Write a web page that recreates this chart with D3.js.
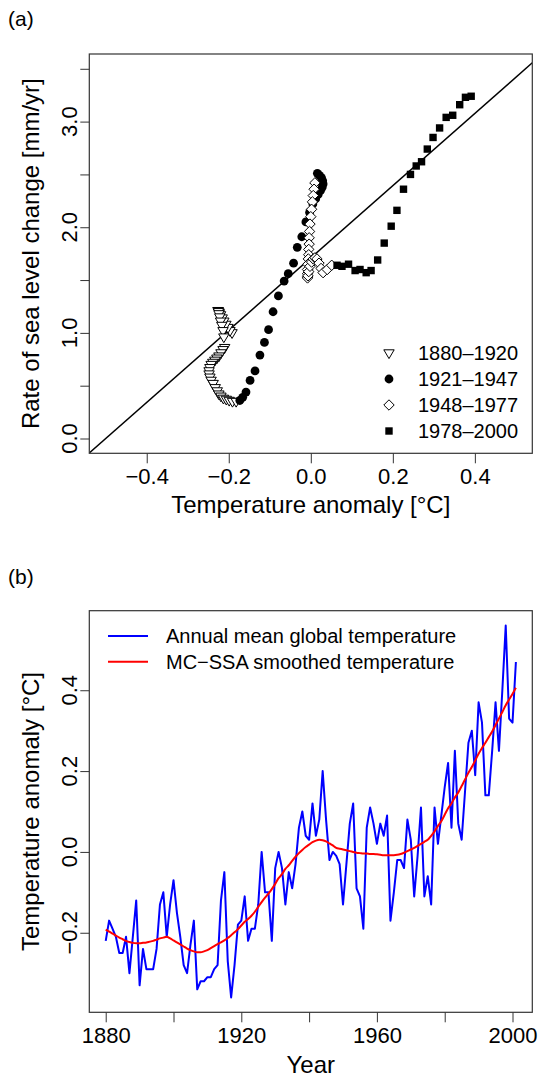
<!DOCTYPE html>
<html>
<head>
<meta charset="utf-8">
<script src="https://cdn.jsdelivr.net/npm/d3@7"></script>
<style>
  body { margin: 0; background: #fff; }
  text { font-family: "Liberation Sans", Arial, Helvetica, sans-serif; fill: #000; }
</style>
</head>
<body>
<div id="chart"></div>
<script>
/*****************************************************
 * DATA
 *****************************************************/
const firstYear = 1880;

// MC-SSA smoothed temperature anomaly [°C], 1880–2001
const smoothTemp = [
  -0.192, -0.197, -0.202, -0.207, -0.212, -0.216, -0.220, -0.223, -0.225, -0.226,
  -0.226, -0.225, -0.224, -0.222, -0.220, -0.217, -0.214, -0.212, -0.210, -0.214,
  -0.219, -0.224, -0.229, -0.234, -0.239, -0.243, -0.246, -0.248, -0.248, -0.246,
  -0.243, -0.238, -0.233, -0.228, -0.224, -0.219, -0.213, -0.206, -0.199, -0.191,
  -0.182, -0.173, -0.166, -0.158, -0.148, -0.136, -0.124, -0.113, -0.103, -0.092,
  -0.079, -0.065, -0.055, -0.042, -0.033, -0.022, -0.012, -0.003, 0.005, 0.012,
  0.018, 0.024, 0.028, 0.030, 0.029, 0.026, 0.021, 0.016, 0.010, 0.008,
  0.006, 0.004, 0.002, 0.000, -0.002, -0.003, -0.004, -0.004, -0.005, -0.005,
  -0.006, -0.007, -0.008, -0.008, -0.008, -0.008, -0.007, -0.005, -0.002, 0.002,
  0.006, 0.010, 0.015, 0.020, 0.025, 0.030, 0.040, 0.051, 0.064, 0.076,
  0.092, 0.108, 0.120, 0.135, 0.147, 0.163, 0.179, 0.196, 0.210, 0.226,
  0.243, 0.257, 0.270, 0.284, 0.298, 0.314, 0.330, 0.346, 0.363, 0.377,
  0.391, 0.406
];

// Annual mean global temperature anomaly [°C], 1880–2001
const annualTemp = [
  -0.22, -0.17, -0.19, -0.21, -0.25, -0.25, -0.21, -0.30, -0.21, -0.12,
  -0.33, -0.24, -0.29, -0.29, -0.29, -0.24, -0.13, -0.10, -0.21, -0.13,
  -0.07, -0.15, -0.21, -0.28, -0.30, -0.23, -0.17, -0.34, -0.32, -0.32,
  -0.31, -0.31, -0.29, -0.28, -0.12, -0.05, -0.27, -0.36, -0.28, -0.18,
  -0.17, -0.11, -0.22, -0.19, -0.19, -0.13, 0.00, -0.10, -0.10, -0.22,
  -0.04, 0.00, -0.04, -0.13, -0.05, -0.09, -0.03, 0.06, 0.10, 0.04,
  0.03, 0.12, 0.04, 0.08, 0.20, 0.08, -0.02, 0.00, -0.01, -0.03,
  -0.13, -0.03, 0.07, 0.12, -0.09, -0.11, -0.19, 0.06, 0.11, 0.07,
  0.02, 0.07, 0.04, 0.09, -0.17, -0.10, -0.02, -0.02, -0.04, 0.08,
  0.03, -0.11, -0.01, 0.11, -0.11, -0.06, -0.13, 0.11, 0.02, 0.09,
  0.16, 0.22, 0.06, 0.25, 0.07, 0.03, 0.15, 0.27, 0.30, 0.19,
  0.37, 0.32, 0.14, 0.14, 0.25, 0.37, 0.25, 0.40, 0.56, 0.33,
  0.32, 0.47
];

// Rate of sea level change [mm/yr], 1880–2000
const seaLevelRate = [
  1.00, 1.02, 1.05, 1.08, 1.11, 1.14, 1.17, 1.19, 1.20, 1.21,
  1.21, 1.20, 1.18, 1.15, 1.11, 1.07, 1.02, 0.96, 0.86, 0.84,
  0.81, 0.78, 0.76, 0.74, 0.72, 0.70, 0.67, 0.64, 0.61, 0.58,
  0.55, 0.52, 0.48, 0.45, 0.42, 0.40, 0.38, 0.37, 0.36, 0.35,
  0.35, 0.36, 0.39, 0.44, 0.55, 0.64, 0.79, 0.91, 1.03, 1.20,
  1.35, 1.49, 1.56, 1.66, 1.81, 1.91, 2.05, 2.14, 2.22, 2.27,
  2.31, 2.35, 2.38, 2.41, 2.44, 2.47, 2.49, 2.51, 2.42, 2.36,
  2.30, 2.24, 2.17, 2.10, 2.03, 1.96, 1.90, 1.84, 1.79, 1.74,
  1.70, 1.65, 1.60, 1.56, 1.53, 1.52, 1.54, 1.58, 1.63, 1.67,
  1.70, 1.71, 1.70, 1.66, 1.61, 1.57, 1.60, 1.64, 1.64, 1.63,
  1.65, 1.59, 1.60, 1.57, 1.59, 1.69, 1.85, 2.01, 2.16, 2.36,
  2.50, 2.58, 2.62, 2.74, 2.85, 2.94, 3.04, 3.06, 3.16, 3.23,
  3.24
];

// Periods and their plotting symbols
const periods = [
  { label: "1880\u20131920", from: 1880, to: 1920, symbol: "triangleDown" },
  { label: "1921\u20131947", from: 1921, to: 1947, symbol: "circle" },
  { label: "1948\u20131977", from: 1948, to: 1977, symbol: "diamond" },
  { label: "1978\u20132000", from: 1978, to: 2000, symbol: "square" }
];

// Fitted line: rate = intercept + slope * T
const fitIntercept = 1.71;
const fitSlope = 3.42;

const xTicksA = [-0.4, -0.2, 0.0, 0.2, 0.4];
const yTicksA = [0, 0.5, 1, 1.5, 2, 2.5, 3, 3.5];
const yLabelsA = [0, 1, 2, 3];
const xTicksB = [1880, 1900, 1920, 1940, 1960, 1980, 2000];
const xLabelsB = [1880, 1920, 1960, 2000];
const yTicksB = [-0.2, 0.0, 0.2, 0.4];

const legendB = [
  { label: "Annual mean global temperature", color: "#0000ff" },
  { label: "MC\u2212SSA smoothed temperature", color: "#ff0000" }
];

/*****************************************************
 * HELPERS
 *****************************************************/
const fmt1 = v => d3.format(".1f")(v).replace("-", "\u2212");

function symbolPath(type) {
  if (type === "circle") return "M0,-4.4A4.4,4.4 0 1,1 0,4.4A4.4,4.4 0 1,1 0,-4.4Z";
  if (type === "square") return "M-3.7,-3.7H3.7V3.7H-3.7Z";
  if (type === "diamond") return "M0,-5.2L5.2,0L0,5.2L-5.2,0Z";
  return "M-5.2,-3.2H5.2L0,5.6Z"; // triangle pointing down
}

function drawSymbol(sel, type) {
  const filled = type === "circle" || type === "square";
  sel.append("path")
    .attr("d", symbolPath(type))
    .attr("fill", filled ? "#000" : "#fff")
    .attr("stroke", "#000")
    .attr("stroke-width", filled ? 0 : 1);
}

const svg = d3.select("#chart")
  .append("svg")
  .attr("width", 539)
  .attr("height", 1078);

/*****************************************************
 * PANEL (a)
 *****************************************************/
const A = { left: 89.3, right: 532.3, top: 54, bottom: 453.3 };

const xA = d3.scaleLinear().domain([-0.54, 0.54]).range([A.left, A.right]);
const yA = d3.scaleLinear().domain([-0.14, 3.64]).range([A.bottom, A.top]);

svg.append("text")
  .attr("x", 8).attr("y", 26)
  .attr("font-size", 21)
  .text("(a)");

svg.append("defs").append("clipPath")
  .attr("id", "clipA")
  .append("rect")
  .attr("x", A.left).attr("y", A.top)
  .attr("width", A.right - A.left).attr("height", A.bottom - A.top);

// fitted line
const xd = xA.domain();
svg.append("line")
  .attr("clip-path", "url(#clipA)")
  .attr("x1", xA(xd[0])).attr("y1", yA(fitIntercept + fitSlope * xd[0]))
  .attr("x2", xA(xd[1])).attr("y2", yA(fitIntercept + fitSlope * xd[1]))
  .attr("stroke", "#000")
  .attr("stroke-width", 1.5);

// scatter points
const scatter = seaLevelRate.map((r, i) => {
  const year = firstYear + i;
  const p = periods.find(p => year >= p.from && year <= p.to);
  return { year, t: smoothTemp[i], r, symbol: p.symbol };
});

svg.append("g")
  .selectAll("g")
  .data(scatter)
  .enter()
  .append("g")
  .attr("transform", d => `translate(${xA(d.t)},${yA(d.r)})`)
  .each(function(d) { drawSymbol(d3.select(this), d.symbol); });

// box
svg.append("rect")
  .attr("x", A.left).attr("y", A.top)
  .attr("width", A.right - A.left).attr("height", A.bottom - A.top)
  .attr("fill", "none").attr("stroke", "#333").attr("stroke-width", 1.2);

// x axis
const gxA = svg.append("g")
  .attr("transform", `translate(0,${A.bottom})`)
  .call(d3.axisBottom(xA).tickValues(xTicksA).tickSize(10).tickPadding(5).tickFormat(fmt1));
gxA.select(".domain").remove();
gxA.selectAll("line").attr("stroke", "#333");
gxA.selectAll("text").attr("font-size", 22).attr("font-family", null);

// y axis (labels rotated as in R)
const gyA = svg.append("g")
  .attr("transform", `translate(${A.left},0)`)
  .call(d3.axisLeft(yA).tickValues(yTicksA).tickSize(9).tickFormat(""));
gyA.select(".domain").remove();
gyA.selectAll("line").attr("stroke", "#333");

svg.append("g")
  .selectAll("text")
  .data(yLabelsA)
  .enter()
  .append("text")
  .attr("transform", d => `translate(${A.left - 12},${yA(d)}) rotate(-90)`)
  .attr("text-anchor", "middle")
  .attr("font-size", 22)
  .text(d => d3.format(".1f")(d));

svg.append("text")
  .attr("x", (A.left + A.right) / 2).attr("y", 513)
  .attr("text-anchor", "middle")
  .attr("font-size", 24)
  .text("Temperature anomaly [\u00b0C]");

svg.append("text")
  .attr("transform", `translate(39,${(A.top + A.bottom) / 2}) rotate(-90)`)
  .attr("text-anchor", "middle")
  .attr("font-size", 24)
  .text("Rate of sea level change [mm/yr]");

// legend
const legA = svg.append("g")
  .selectAll("g")
  .data(periods)
  .enter()
  .append("g")
  .attr("transform", (d, i) => `translate(389,${353 + i * 26})`);

legA.each(function(d) { drawSymbol(d3.select(this), d.symbol); });

legA.append("text")
  .attr("x", 29).attr("y", 7)
  .attr("font-size", 20)
  .text(d => d.label);

/*****************************************************
 * PANEL (b)
 *****************************************************/
const B = { left: 89.3, right: 532.3, top: 610.7, bottom: 1012.3 };

const years = annualTemp.map((v, i) => firstYear + i);
const yrExt = d3.extent(years);
const yrPad = (yrExt[1] - yrExt[0]) * 0.04;
const tExt = d3.extent(annualTemp.concat(smoothTemp));
const tPad = (tExt[1] - tExt[0]) * 0.04;

const xB = d3.scaleLinear().domain([yrExt[0] - yrPad, yrExt[1] + yrPad]).range([B.left, B.right]);
const yB = d3.scaleLinear().domain([tExt[0] - tPad, tExt[1] + tPad]).range([B.bottom, B.top]);

svg.append("text")
  .attr("x", 8).attr("y", 584)
  .attr("font-size", 21)
  .text("(b)");

const lineB = d3.line()
  .x((d, i) => xB(firstYear + i))
  .y(d => yB(d));

svg.append("path")
  .datum(annualTemp)
  .attr("d", lineB)
  .attr("fill", "none")
  .attr("stroke", "#0000ff")
  .attr("stroke-width", 2)
  .attr("stroke-linejoin", "round");

svg.append("path")
  .datum(smoothTemp)
  .attr("d", lineB.curve(d3.curveMonotoneX))
  .attr("fill", "none")
  .attr("stroke", "#ff0000")
  .attr("stroke-width", 2);

svg.append("rect")
  .attr("x", B.left).attr("y", B.top)
  .attr("width", B.right - B.left).attr("height", B.bottom - B.top)
  .attr("fill", "none").attr("stroke", "#333").attr("stroke-width", 1.2);

const gxB = svg.append("g")
  .attr("transform", `translate(0,${B.bottom})`)
  .call(d3.axisBottom(xB).tickValues(xTicksB).tickSize(10).tickPadding(5)
    .tickFormat(d => xLabelsB.includes(d) ? String(d) : ""));
gxB.select(".domain").remove();
gxB.selectAll("line").attr("stroke", "#333");
gxB.selectAll("text").attr("font-size", 22).attr("font-family", null);

const gyB = svg.append("g")
  .attr("transform", `translate(${B.left},0)`)
  .call(d3.axisLeft(yB).tickValues(yTicksB).tickSize(9).tickFormat(""));
gyB.select(".domain").remove();
gyB.selectAll("line").attr("stroke", "#333");

svg.append("g")
  .selectAll("text")
  .data(yTicksB)
  .enter()
  .append("text")
  .attr("transform", d => `translate(${B.left - 12},${yB(d)}) rotate(-90)`)
  .attr("text-anchor", "middle")
  .attr("font-size", 22)
  .text(fmt1);

svg.append("text")
  .attr("x", (B.left + B.right) / 2).attr("y", 1073)
  .attr("text-anchor", "middle")
  .attr("font-size", 24)
  .text("Year");

svg.append("text")
  .attr("transform", `translate(39,${(B.top + B.bottom) / 2}) rotate(-90)`)
  .attr("text-anchor", "middle")
  .attr("font-size", 24)
  .text("Temperature anomaly [\u00b0C]");

const legB = svg.append("g")
  .selectAll("g")
  .data(legendB)
  .enter()
  .append("g")
  .attr("transform", (d, i) => `translate(108,${636 + i * 25.7})`);

legB.append("line")
  .attr("x1", 0).attr("x2", 40)
  .attr("stroke", d => d.color)
  .attr("stroke-width", 2);

legB.append("text")
  .attr("x", 58).attr("y", 7)
  .attr("font-size", 20)
  .text(d => d.label);
</script>
</body>
</html>
